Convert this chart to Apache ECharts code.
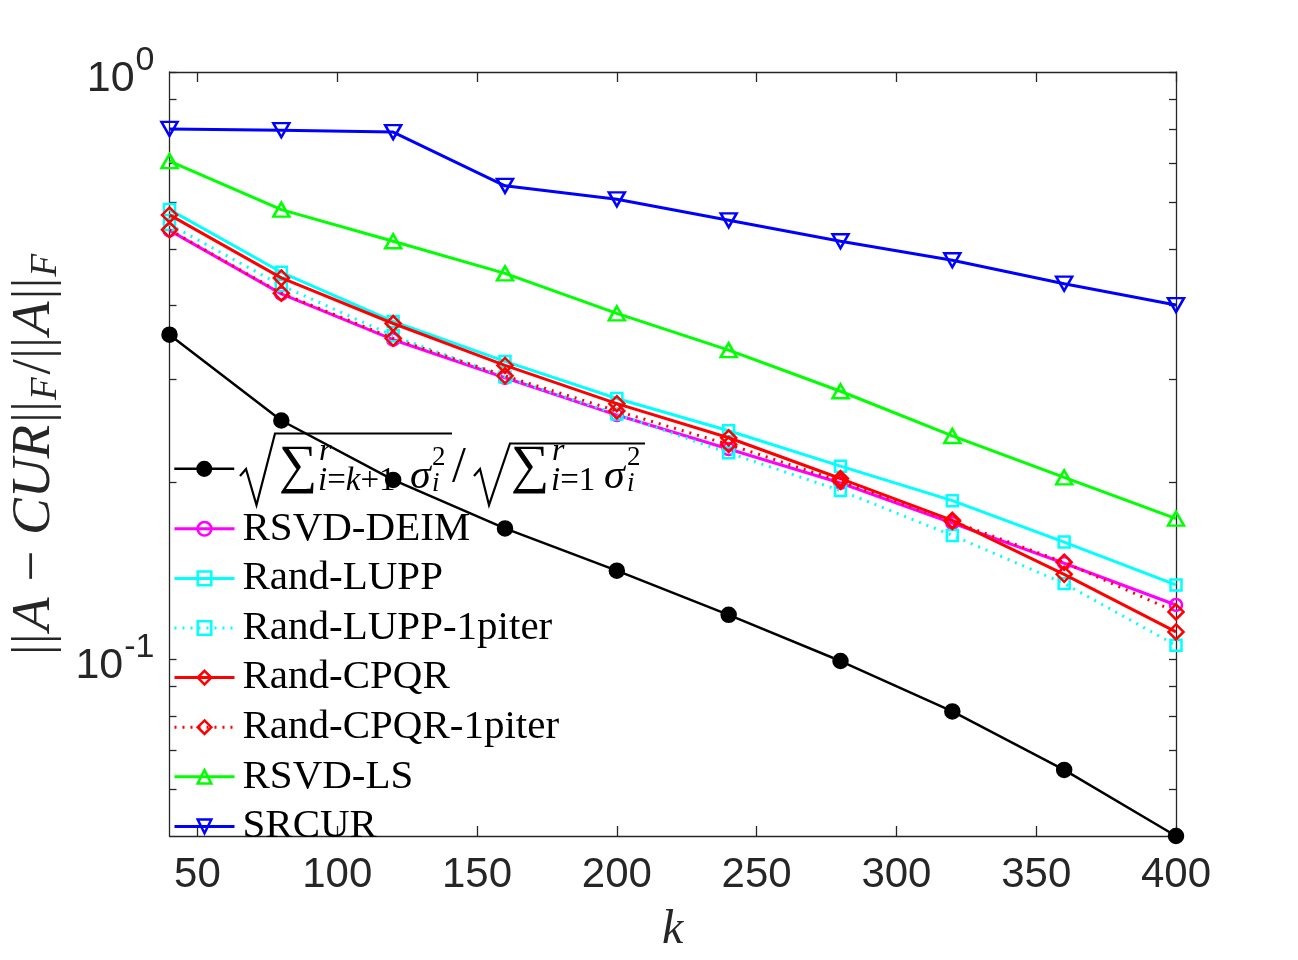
<!DOCTYPE html>
<html><head><meta charset="utf-8">
<script src="https://cdn.jsdelivr.net/npm/echarts@6/dist/echarts.min.js"></script>
<style>html,body{margin:0;padding:0;background:#fff}#c{width:1298px;height:960px}</style>
</head><body><div id="c"></div>
<script>
// ---- data ----
const kValues   = [40, 80, 120, 160, 200, 240, 280, 320, 360, 400];
const sigmaRatio = [0.357, 0.255, 0.202, 0.167, 0.1415, 0.119, 0.0993, 0.0815, 0.0648, 0.0500];
const rsvdDeim   = [0.5375, 0.419, 0.350, 0.3015, 0.2605, 0.228, 0.1996, 0.1705, 0.1457, 0.1237];
const randLupp   = [0.583, 0.456, 0.376, 0.3215, 0.278, 0.245, 0.2132, 0.1862, 0.1583, 0.1338];
const randLupp1  = [0.550, 0.433, 0.3555, 0.3025, 0.2615, 0.2246, 0.1937, 0.1625, 0.1346, 0.1056];
const randCpqr   = [0.571, 0.446, 0.373, 0.3165, 0.2724, 0.2383, 0.2031, 0.1724, 0.1395, 0.1113];
const randCpqr1  = [0.5385, 0.420, 0.352, 0.3038, 0.2647, 0.2321, 0.2009, 0.1717, 0.1463, 0.1204];
const rsvdLs     = [0.705, 0.583, 0.515, 0.454, 0.388, 0.336, 0.286, 0.240, 0.204, 0.1735];
const srcur      = [0.800, 0.796, 0.790, 0.640, 0.607, 0.559, 0.515, 0.478, 0.436, 0.401];
const seriesNames = ['sigma', 'RSVD-DEIM', 'Rand-LUPP', 'Rand-LUPP-1piter', 'Rand-CPQR', 'Rand-CPQR-1piter', 'RSVD-LS', 'SRCUR'];
const xTickValues = [50, 100, 150, 200, 250, 300, 350, 400];
const yLabelValues = [0.1, 1];
const yTickValues = [0.06, 0.07, 0.08, 0.09, 0.1, 0.2, 0.3, 0.4, 0.5, 0.6, 0.7, 0.8, 0.9, 1];
const yMin = 0.05, yMax = 1;

const L = v => Math.log10(v);
const AX = '#262626';
const HOLLOW = 'rgba(0,0,0,0)';

const styles = [
  {vals: sigmaRatio, color: '#000000', symbol: 'circle',   size: 14, fill: '#000000', type: 'solid', width: 2.5},
  {vals: rsvdDeim,   color: '#ff00ff', symbol: 'circle',   size: 12, fill: HOLLOW, type: 'solid', width: 3},
  {vals: randLupp,   color: '#00ffff', symbol: 'rect',     size: 11, fill: HOLLOW, type: 'solid', width: 3},
  {vals: randLupp1,  color: '#00ffff', symbol: 'rect',     size: 11, fill: HOLLOW, type: [2, 6], width: 3},
  {vals: randCpqr,   color: '#ff0000', symbol: 'diamond',  size: 15, fill: HOLLOW, type: 'solid', width: 3},
  {vals: randCpqr1,  color: '#ff0000', symbol: 'diamond',  size: 15, fill: HOLLOW, type: [2, 6], width: 3},
  {vals: rsvdLs,     color: '#00ff00', symbol: 'triangle', size: [16, 14], fill: HOLLOW, type: 'solid', width: 3},
  {vals: srcur,      color: '#0000ff', symbol: 'triangle', size: [16, 14], fill: HOLLOW, type: 'solid', width: 3, rotate: 180}
];

const series = styles.map((s, i) => ({
  name: seriesNames[i],
  type: 'line',
  data: kValues.map((k, j) => [k, L(s.vals[j])]),
  symbol: s.symbol,
  symbolSize: s.size,
  symbolRotate: s.rotate || 0,
  showAllSymbol: true,
  clip: false,
  lineStyle: {color: s.color, width: s.width, type: s.type, cap: 'butt'},
  itemStyle: {color: s.fill, borderColor: s.color, borderWidth: 2.5},
  emphasis: {disabled: true},
  animation: false,
  z: 2 + i
}));

const xAxisBase = {
  type: 'value', min: 40, max: 400,
  axisLine: {show: true, onZero: false, lineStyle: {color: AX, width: 1.3}},
  axisTick: {show: true, inside: true, length: 10, customValues: xTickValues, lineStyle: {color: AX, width: 1.3}},
  splitLine: {show: false}
};
const yAxisBase = {
  type: 'value', min: L(yMin), max: L(yMax),
  axisLine: {show: true, onZero: false, lineStyle: {color: AX, width: 1.3}},
  axisTick: {show: true, inside: true, length: 7, customValues: yTickValues.map(L), lineStyle: {color: AX, width: 1.3}},
  splitLine: {show: false}
};

const serif = '"Liberation Serif","Times New Roman",serif';
const sans = '"Liberation Sans",Arial,sans-serif';

function ftext(x, y, text, rich) {
  return {type: 'text', x: x, y: y, silent: true, z: 100,
    style: {text: text, rich: rich, textAlign: 'left', textVerticalAlign: 'middle', fill: '#000'}};
}
const fr = {
  sum: {fontFamily: serif, fontSize: 54, color: '#000'},
  it: {fontFamily: serif, fontStyle: 'italic', fontSize: 33, color: '#000'},
  rm: {fontFamily: serif, fontSize: 33, color: '#000'},
  sp: {fontFamily: serif, fontStyle: 'italic', fontSize: 32, color: '#000'},
  sg: {fontFamily: serif, fontStyle: 'italic', fontSize: 42, color: '#000'},
  s2: {fontFamily: serif, fontSize: 27, color: '#000'},
  si: {fontFamily: serif, fontStyle: 'italic', fontSize: 27, color: '#000'},
  sl: {fontFamily: serif, fontSize: 50, color: '#000'}
};

const option = {
  backgroundColor: '#ffffff',
  animation: false,
  grid: {left: 169.5, right: 122, top: 72, bottom: 124, containLabel: false, outerBoundsMode: 'none'},
  xAxis: [
    Object.assign({}, xAxisBase, {
      position: 'bottom',
      axisLabel: {customValues: xTickValues, fontFamily: sans, fontSize: 42, color: AX, margin: 18},
      name: 'k', nameLocation: 'middle', nameGap: 70,
      nameTextStyle: {fontFamily: serif, fontStyle: 'italic', fontSize: 48, color: AX}
    }),
    Object.assign({}, xAxisBase, {position: 'top', axisLabel: {show: false}})
  ],
  yAxis: [
    Object.assign({}, yAxisBase, {
      position: 'left',
      axisLabel: {
        customValues: yLabelValues.map(L), margin: 15,
        formatter: v => '{b|10}{s|' + (v > -0.5 ? '0' : '-1') + '}',
        rich: {
          b: {fontFamily: sans, fontSize: 43, color: AX, lineHeight: 43, padding: [14, 0, 0, 0]},
          s: {fontFamily: sans, fontSize: 34, color: AX, lineHeight: 34, padding: [0, 0, 23, 1]}
        }
      },
      name: '{u|||}{i|A}{u| − }{i|CUR}{u|||}{s|F}{u|/||}{i|A}{u|||}{s|F}',
      nameLocation: 'middle', nameRotate: 90, nameGap: 98,
      nameTextStyle: {
        rich: {
          u: {fontFamily: serif, fontSize: 55, color: AX, lineHeight: 55, padding: [0, 1, 0, 1]},
          i: {fontFamily: serif, fontStyle: 'italic', fontSize: 55, color: AX, lineHeight: 55, padding: [0, 1, 0, 1]},
          s: {fontFamily: serif, fontStyle: 'italic', fontSize: 37, color: AX, lineHeight: 37, padding: [22, 2, 0, 0]}
        }
      }
    }),
    Object.assign({}, yAxisBase, {position: 'right', axisLabel: {show: false}})
  ],
  legend: [
    {
      data: [seriesNames[0]], orient: 'vertical', left: 173, top: 460.8, padding: 0,
      itemWidth: 60, itemHeight: 17, selectedMode: false,
      formatter: () => '',
      textStyle: {fontSize: 12, lineHeight: 17},
      lineStyle: {width: 'inherit'}, itemStyle: {borderWidth: 'inherit'}
    },
    {
      data: seriesNames.slice(1), orient: 'vertical', left: 173, top: 508.3, padding: 0,
      itemWidth: 60, itemHeight: 17, itemGap: 8.6, selectedMode: false, align: 'left',
      textStyle: {fontFamily: serif, fontSize: 41, color: '#000', lineHeight: 40, padding: [0, 0, 0, 3]},
      lineStyle: {width: 'inherit'}, itemStyle: {borderWidth: 'inherit'}
    }
  ],
  graphic: {elements: [
    {type: 'polyline', silent: true, z: 100, shape: {points: [[240, 476], [246, 469], [256.5, 505], [275, 433.5], [452, 433.5]]},
      style: {stroke: '#000', lineWidth: 2.2, fill: null}},
    {type: 'polyline', silent: true, z: 100, shape: {points: [[474, 476], [480, 469], [489, 505], [510, 443.5], [645, 443.5]]},
      style: {stroke: '#000', lineWidth: 2.2, fill: null}},
    ftext(279, 468, '{sum|∑}', fr),
    ftext(319, 452, '{sp|r}', fr),
    ftext(318, 481, '{it|i}{rm|=}{it|k}{rm|+1}', fr),
    ftext(410, 477, '{sg|σ}', fr),
    ftext(432, 458, '{s2|2}', fr),
    ftext(432, 484, '{si|i}', fr),
    ftext(452, 468, '{sl|/}', fr),
    ftext(511, 468, '{sum|∑}', fr),
    ftext(552, 452, '{sp|r}', fr),
    ftext(551, 481, '{it|i}{rm|=1}', fr),
    ftext(604, 477, '{sg|σ}', fr),
    ftext(627, 458, '{s2|2}', fr),
    ftext(627, 484, '{si|i}', fr)
  ]},
  series: series
};

const chart = echarts.init(document.getElementById('c'), null, {renderer: 'canvas'});
chart.setOption(option);
</script>
</body></html>
